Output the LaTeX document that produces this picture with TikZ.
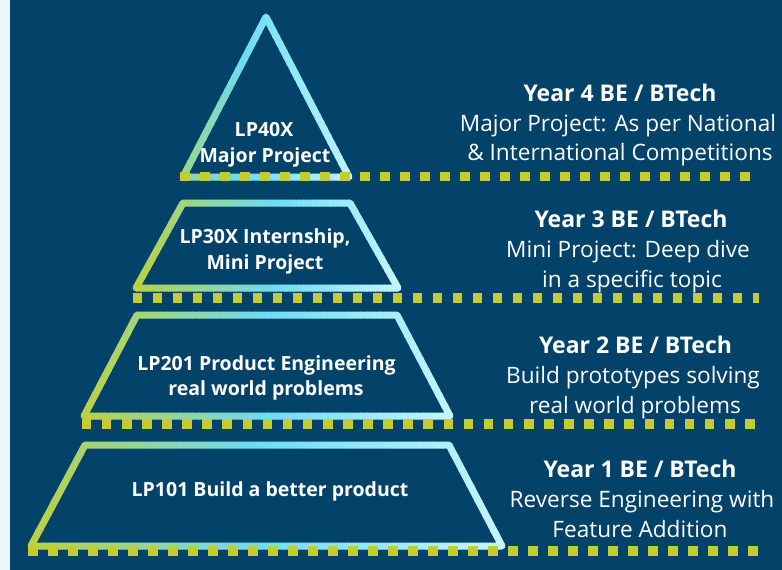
\documentclass[tikz,border=0pt]{standalone}
\usepackage{fontspec}
\setmainfont{Open Sans}
\definecolor{navybg}{HTML}{03436A}
\definecolor{stripbg}{HTML}{EEF7FC}
\definecolor{gA}{HTML}{BDD040}
\definecolor{gB}{HTML}{6DDCF3}
\definecolor{gC}{HTML}{C6F6FC}
\definecolor{dotc}{HTML}{C5CC30}
\tikzset{
 outline/.style={line width=7pt, line join=round, line cap=round},
 dotrow/.style={dotc, line width=9.6pt, dash pattern=on 9.6pt off 10.4pt},
 yeartitle/.style={text=white, font=\fontsize{23}{27}\selectfont\bfseries, anchor=base, inner sep=0pt},
 yeardesc/.style={text=white, font=\fontsize{22.6}{27}\selectfont, anchor=base, inner sep=0pt},
 inlabel/.style={text=white, font=\fontsize{19.5}{23}\selectfont\bfseries, anchor=base, inner sep=0pt},
}
% gradient stroke: xmin, xmax, mid fraction, path
\newcommand{\gradpath}[4]{%
  \foreach \gi in {0,...,59}{%
    \pgfmathsetmacro{\gxa}{#1+(#2-#1)/60*\gi}%
    \pgfmathsetmacro{\gxb}{#1+(#2-#1)/60*(\gi+1)+0.8}%
    \pgfmathsetmacro{\gt}{(\gi+0.5)/60}%
    \pgfmathtruncatemacro{\gpa}{min(100,100*\gt/#3)}%
    \pgfmathtruncatemacro{\gpb}{max(0,100*(\gt-#3)/(1-#3))}%
    \ifdim\gt pt<#3pt\relax\colorlet{gcur}{gB!\gpa!gA}\else\colorlet{gcur}{gC!\gpb!gB}\fi
    \begin{scope}
      \clip (\gxa,-5) rectangle (\gxb,600);
      \draw[outline,gcur] #4;
    \end{scope}
  }%
}
\begin{document}
\begin{tikzpicture}[x=1pt,y=-1pt]
\useasboundingbox (0,0) rectangle (782,570);
\fill[stripbg] (0,0) rectangle (10,570);
\fill[navybg] (10,0) rectangle (782,570);

% pyramid levels
\gradpath{140}{360}{0.47}{(266,17) -- (349,177) -- (183,177) -- cycle}
\gradpath{132}{402}{0.52}{(183,203) -- (350,203) -- (398,288) -- (136,288) -- cycle}
\gradpath{80}{454}{0.49}{(137,315) -- (397,315) -- (450,416) -- (84,416) -- cycle}
\gradpath{27}{506}{0.47}{(85,445) -- (449,445) -- (502,546) -- (31,546) -- cycle}

% dotted rows
\coordinate (d1a) at (180,176.5);  \coordinate (d1b) at (750,176.5);
\coordinate (d2a) at (132.7,297.7); \coordinate (d2b) at (758.5,297.7);
\coordinate (d3a) at (81.7,423.7);  \coordinate (d3b) at (754.5,423.7);
\coordinate (d4a) at (28.3,551);    \coordinate (d4b) at (758,551);
\draw[dotrow] (d1a) -- (d1b);
\draw[dotrow] (d2a) -- (d2b);
\draw[dotrow, dash pattern=on 9.6pt off 10.5pt] (d3a) -- (d3b);
\draw[dotrow] (d4a) -- (d4b);

% labels inside shapes
\node[inlabel] (l4a) at (264,136) {LP40X};
\node[inlabel] (l4b) at (265,162) {Major Project};
\node[inlabel] (l3a) at (265,243) {LP30X Internship,};
\node[inlabel] (l3b) at (265,269) {Mini Project};
\node[inlabel] (l2a) at (266.5,370) {LP201 Product Engineering};
\node[inlabel] (l2b) at (266,395) {real world problems};
\node[inlabel] (l1a) at (270,496) {LP101 Build a better product};

% right-hand descriptions
\node[yeartitle] (y4t) at (620,101) {Year 4 BE / BTech};
\node[yeardesc]  (y4a) at (618,131) {Major Project: As per National};
\node[yeardesc]  (y4b) at (620,160) {\& International Competitions};
\node[yeartitle] (y3t) at (631,227) {Year 3 BE / BTech};
\node[yeardesc]  (y3a) at (628,257) {Mini Project: Deep dive};
\node[yeardesc]  (y3b) at (632,287) {in a specific topic};
\node[yeartitle] (y2t) at (635.5,353) {Year 2 BE / BTech};
\node[yeardesc]  (y2a) at (633,383) {Build prototypes solving};
\node[yeardesc]  (y2b) at (635,413) {real world problems};
\node[yeartitle] (y1t) at (640,477) {Year 1 BE / BTech};
\node[yeardesc]  (y1a) at (642,507) {Reverse Engineering with};
\node[yeardesc]  (y1b) at (640,537) {Feature Addition};
\end{tikzpicture}
\end{document}
